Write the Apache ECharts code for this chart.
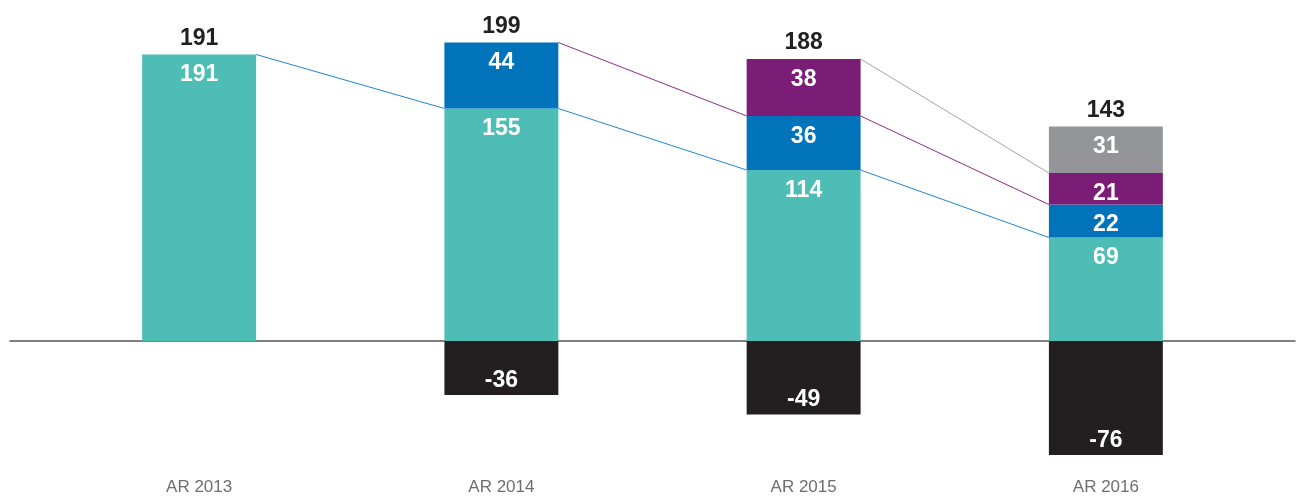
<!DOCTYPE html>
<html>
<head>
<meta charset="utf-8">
<script src="https://cdn.jsdelivr.net/npm/echarts@6/dist/echarts.min.js"></script>
<style>
  html, body { margin: 0; padding: 0; background: #fff; }
  #chart { width: 1302px; height: 497px; }
</style>
</head>
<body>
<div id="chart"></div>
<script>
// data
const categories = ['AR 2013', 'AR 2014', 'AR 2015', 'AR 2016'];
const tealValues = [191, 155, 114, 69];
const blueValues = [null, 44, 36, 22];
const purpleValues = [null, null, 38, 21];
const greyValues = [null, null, null, 31];
const blackValues = [null, -36, -49, -76];
const totalValues = [191, 199, 188, 143];

const barRatio = 0.377;
const fontFamily = '"Liberation Sans", Arial, sans-serif';

// cumulative tops of the positive layers
function addLayer(base, layer) {
    return base.map(function (v, i) {
        if (v == null || layer[i] == null) return null;
        return v + layer[i];
    });
}
const cumTeal = tealValues.slice();
const cumBlue = addLayer(cumTeal, blueValues);
const cumPurple = addLayer(cumBlue, purpleValues);

// one connector per pair of neighbouring bars where the level exists in both
function connectorData(levels) {
    const out = [];
    for (let i = 0; i < levels.length - 1; i++) {
        if (levels[i] != null && levels[i + 1] != null) {
            out.push([i, levels[i], levels[i + 1]]);
        }
    }
    return out;
}

function connectorSeries(data, color) {
    return {
        type: 'custom',
        xAxisIndex: 0,
        yAxisIndex: 0,
        silent: true,
        z: 1,
        encode: { x: 0, y: [1, 2] },
        data: data,
        renderItem: function (params, api) {
            const x = api.value(0);
            const p0 = api.coord([x, api.value(1)]);
            const p1 = api.coord([x + 1, api.value(2)]);
            const half = api.size([1, 0])[0] * barRatio / 2;
            return {
                type: 'line',
                shape: { x1: p0[0] + half, y1: p0[1], x2: p1[0] - half, y2: p1[1] },
                style: { stroke: color, lineWidth: 1 }
            };
        }
    };
}

function layerSeries(name, values, color, position) {
    return {
        name: name,
        type: 'bar',
        stack: 'all',
        barWidth: (barRatio * 100) + '%',
        data: values,
        itemStyle: { color: color },
        label: {
            show: true,
            position: position,
            distance: position === 'insideTop' ? 9 : 3,
            color: '#fff',
            fontSize: 23,
            fontWeight: 'bold',
            fontFamily: fontFamily,
            formatter: function (p) { return p.value == null ? '' : p.value; }
        }
    };
}

const chart = echarts.init(document.getElementById('chart'));
chart.setOption({
    animation: false,
    backgroundColor: '#fff',
    grid: [
        { left: 48, right: 45, top: 11, bottom: 21 },
        { left: 10, right: 7, top: 11, bottom: 21 }
    ],
    xAxis: [
        {
            type: 'category',
            gridIndex: 0,
            data: categories,
            axisLine: { show: false, onZero: false },
            axisTick: { show: false },
            axisLabel: {
                margin: 3,
                color: '#6d6e71',
                fontSize: 17,
                fontFamily: fontFamily
            }
        },
        {
            type: 'category',
            gridIndex: 1,
            data: [''],
            axisLine: { show: true, onZero: true, lineStyle: { color: '#555', width: 1.5 } },
            axisTick: { show: false },
            axisLabel: { show: false }
        }
    ],
    yAxis: [
        { type: 'value', gridIndex: 0, min: -90, max: 220, show: false, splitLine: { show: false } },
        { type: 'value', gridIndex: 1, min: -90, max: 220, show: false, splitLine: { show: false } }
    ],
    series: [
        layerSeries('teal', tealValues, '#4dbdb5', 'insideTop'),
        layerSeries('blue', blueValues, '#0073bb', 'insideTop'),
        layerSeries('purple', purpleValues, '#7b1c77', 'insideTop'),
        layerSeries('grey', greyValues, '#939598', 'insideTop'),
        layerSeries('black', blackValues, '#231f20', 'insideBottom'),
        {
            name: 'total',
            type: 'scatter',
            symbolSize: 1,
            silent: true,
            itemStyle: { color: 'rgba(0,0,0,0)', opacity: 1 },
            data: totalValues,
            label: {
                show: true,
                position: 'top',
                distance: 4,
                color: '#231f20',
                fontSize: 23,
                fontWeight: 'bold',
                fontFamily: fontFamily
            }
        },
        connectorSeries(connectorData(cumTeal), '#1f86d1'),
        connectorSeries(connectorData(cumBlue), '#8a2c87'),
        connectorSeries(connectorData(cumPurple), '#a5a5a5')
    ]
});

window.addEventListener('resize', function () {
    chart.resize();
});
</script>
</body>
</html>
